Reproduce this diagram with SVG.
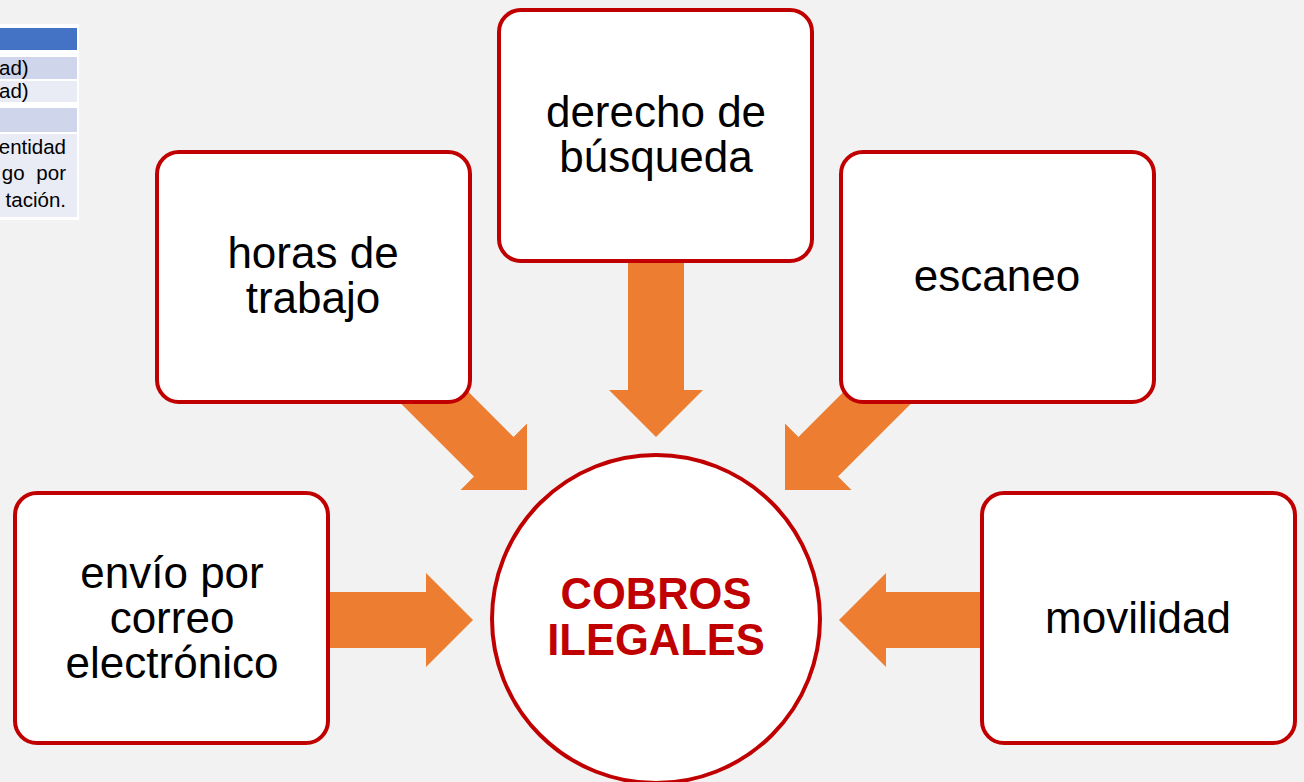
<svg xmlns="http://www.w3.org/2000/svg" width="1304" height="782" viewBox="0 0 1304 782">
<style>
.box{fill:#fff;stroke:#c00000;stroke-width:4}
.lbl{font-family:"Liberation Sans",Arial,sans-serif;font-size:44px;fill:#000;text-anchor:middle}
.ctr{font-family:"Liberation Sans",Arial,sans-serif;font-size:43.5px;font-weight:bold;fill:#c00000;text-anchor:middle}
.arr{fill:#ed7d31}
.tt{font-family:"Liberation Sans",Arial,sans-serif;font-size:20.5px;fill:#000}
</style>
<defs>
<polygon id="arrowShort" points="0,0 -47,-47 -47,-28 -155,-28 -155,28 -47,28 -47,47"/>
<polygon id="arrowLong" points="0,0 -47,-47 -47,-28 -190,-28 -190,28 -47,28 -47,47"/>
</defs>
<rect width="1304" height="782" fill="#f2f2f2"/>
<g id="table">
<rect x="0" y="24" width="79" height="196" fill="#fff"/>
<rect x="0" y="28" width="77" height="22" fill="#4472c4"/>
<rect x="0" y="57" width="77" height="22" fill="#cfd5ea"/>
<rect x="0" y="81" width="77" height="21" fill="#e9ebf5"/>
<rect x="0" y="108" width="77" height="24" fill="#cfd5ea"/>
<rect x="0" y="134" width="77" height="83" fill="#e9ebf5"/>
<text class="tt" x="-1" y="75">ad)</text>
<text class="tt" x="-1" y="98">ad)</text>
<text class="tt" x="66" y="154" text-anchor="end">entidad</text>
<text class="tt" x="66" y="180" text-anchor="end" word-spacing="6">go por</text>
<text class="tt" x="66" y="207" text-anchor="end">tación.</text>
</g>
<g id="connectors">
<use href="#arrowLong" class="arr" transform="translate(656,437) rotate(90)"/>
<use href="#arrowLong" class="arr" transform="translate(527,490) rotate(45)"/>
<use href="#arrowLong" class="arr" transform="translate(785,490) rotate(135)"/>
<use href="#arrowShort" class="arr" transform="translate(473,620)"/>
<use href="#arrowShort" class="arr" transform="translate(839,620) rotate(180)"/>
</g>
<g id="node-horas">
<rect class="box" x="157" y="152" width="313" height="250" rx="22"/>
<text class="lbl" x="313" y="268">horas de</text>
<text class="lbl" x="313" y="313">trabajo</text>
</g>
<g id="node-derecho">
<rect class="box" x="499" y="10" width="313" height="251" rx="22"/>
<text class="lbl" x="656" y="127">derecho de</text>
<text class="lbl" x="656" y="172">búsqueda</text>
</g>
<g id="node-escaneo">
<rect class="box" x="841" y="152" width="313" height="250" rx="22"/>
<text class="lbl" x="997" y="291">escaneo</text>
</g>
<g id="node-envio">
<rect class="box" x="15" y="493" width="313" height="250" rx="22"/>
<text class="lbl" x="172" y="588">envío por</text>
<text class="lbl" x="172" y="633">correo</text>
<text class="lbl" x="172" y="678">electrónico</text>
</g>
<g id="node-movilidad">
<rect class="box" x="982" y="493" width="313" height="250" rx="22"/>
<text class="lbl" x="1138" y="633">movilidad</text>
</g>
<g id="node-cobros">
<circle class="box" cx="656" cy="619" r="164"/>
<text class="ctr" x="656" y="609">COBROS</text>
<text class="ctr" x="656" y="655">ILEGALES</text>
</g>
</svg>
